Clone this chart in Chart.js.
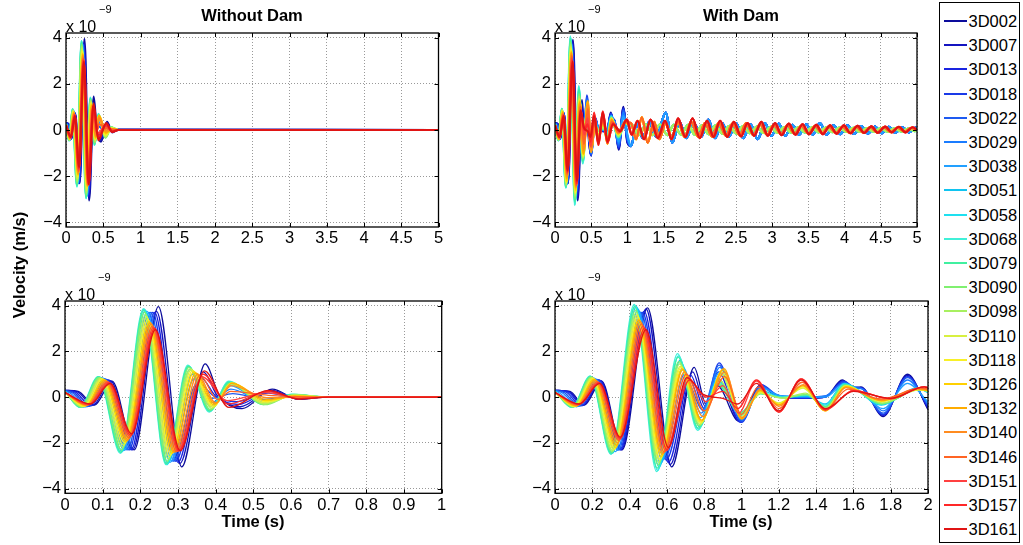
<!DOCTYPE html>
<html><head><meta charset="utf-8">
<script src="https://cdn.jsdelivr.net/npm/chart.js@4.4.1/dist/chart.umd.min.js"></script>
<style>
body{margin:0;width:1023px;height:545px;background:#fff;position:relative;overflow:hidden;font-family:'Liberation Sans',Arial,Helvetica,sans-serif;color:#000}
canvas{position:absolute}
.t{position:absolute;white-space:nowrap;line-height:1}
.b{font-weight:bold;font-size:16.5px}
.x10{font-size:16px}
.sup{font-size:11px}
#legend{position:absolute;left:939px;top:2px;width:79px;height:539px;border:1.2px solid #000;background:#fff;z-index:5}
.lg{position:absolute;left:4px;height:16.5px;line-height:16.5px;font-size:16.5px}
.sw{position:absolute;left:4px;width:23px;height:2px}
</style></head><body>
<canvas id="cTL" width="470" height="262" style="left:0;top:0"></canvas>
<canvas id="cTR" width="450" height="262" style="left:490px;top:0"></canvas>
<canvas id="cBL" width="470" height="275" style="left:0;top:270px"></canvas>
<canvas id="cBR" width="450" height="275" style="left:490px;top:270px"></canvas>

<div class="t b" style="left:252px;top:7px;transform:translateX(-50%)">Without Dam</div>
<div class="t b" style="left:741px;top:7px;transform:translateX(-50%)">With Dam</div>
<div class="t x10" style="left:66px;top:18.5px">x 10</div><div class="t sup" style="left:99px;top:3.5px">&minus;9</div>
<div class="t x10" style="left:555px;top:18.5px">x 10</div><div class="t sup" style="left:588px;top:3.5px">&minus;9</div>
<div class="t x10" style="left:65px;top:286.5px">x 10</div><div class="t sup" style="left:98px;top:271.5px">&minus;9</div>
<div class="t x10" style="left:555px;top:286.5px">x 10</div><div class="t sup" style="left:588px;top:271.5px">&minus;9</div>
<div class="t b" style="left:253px;top:512.5px;transform:translateX(-50%)">Time (s)</div>
<div class="t b" style="left:741px;top:512.5px;transform:translateX(-50%)">Time (s)</div>
<div class="t b" style="left:19px;top:265px;transform:translate(-50%,-50%) rotate(-90deg)">Velocity (m/s)</div>
<div id="legend"></div>

<script>
// ---------- series labels ----------
const seriesNames = ['3D002','3D007','3D013','3D018','3D022','3D029','3D038','3D051','3D058','3D068','3D079',
  '3D090','3D098','3D110','3D118','3D126','3D132','3D140','3D146','3D151','3D157','3D161'];

// ---------- tick labels ----------
const yTickVals = [-4,-2,0,2,4];
const yTickLabels = ['\u22124','\u22122','0','2','4'];
const xTickValsTop = [0,0.5,1,1.5,2,2.5,3,3.5,4,4.5,5];
const xTickLabelsTop = ['0','0.5','1','1.5','2','2.5','3','3.5','4','4.5','5'];
const xTickValsBL = [0,0.1,0.2,0.3,0.4,0.5,0.6,0.7,0.8,0.9,1];
const xTickLabelsBL = ['0','0.1','0.2','0.3','0.4','0.5','0.6','0.7','0.8','0.9','1'];
const xTickValsBR = [0,0.1,0.2,0.3,0.4,0.5,0.6,0.7,0.8,0.9,1];
const xTickLabelsBR = ['0','0.2','0.4','0.6','0.8','1','1.2','1.4','1.6','1.8','2'];

// ---------- Without Dam: [time s, velocity x1e-9 m/s] ----------
const noDam_3D002 = [[0,.3],[.035,.25],[.078,-.35],[.125,.7],[.184,-2.3],[.248,3.95],[.31,-3.05],[.372,1.45],[.41,.05],[.47,-.5],[.55,.35],[.62,-.1],[.7,.02],[5,0]];
const noDam_3D007 = [[0,.3],[.032,.24],[.074,-.36],[.121,.72],[.18,-2.3],[.243,3.75],[.305,-2.9],[.367,1.1],[.405,.05],[.465,-.42],[.548,.3],[.62,-.08],[.7,.01],[5,0]];
const noDam_3D013 = [[0,.3],[.028,.22],[.069,-.38],[.116,.75],[.176,-2.3],[.238,3.7],[.3,-2.85],[.36,.85],[.4,.05],[.46,-.32],[.545,.25],[.62,-.06],[.7,0],[5,0]];
const noDam_3D018 = [[0,.3],[.024,.2],[.064,-.4],[.111,.78],[.171,-2.3],[.233,3.7],[.294,-2.8],[.354,.62],[.395,.05],[.455,-.2],[.54,.18],[.62,-.04],[.7,0],[5,0]];
const noDam_3D022 = [[0,.3],[.02,.18],[.06,-.41],[.107,.8],[.167,-2.3],[.228,3.7],[.289,-2.8],[.348,.55],[.39,-.05],[.445,.15],[.53,-.1],[.6,.05],[.7,0],[5,0]];
const noDam_3D029 = [[0,.28],[.016,.15],[.055,-.42],[.103,.82],[.162,-2.3],[.223,3.7],[.284,-2.8],[.342,.8],[.388,-.25],[.44,.35],[.528,-.18],[.6,.07],[.7,0],[5,0]];
const noDam_3D038 = [[0,.27],[.012,.1],[.05,-.43],[.098,.85],[.157,-2.32],[.218,3.75],[.279,-2.85],[.337,1.0],[.386,-.4],[.438,.5],[.527,-.22],[.6,.09],[.7,0],[5,0]];
const noDam_3D051 = [[0,.26],[.045,-.44],[.093,.87],[.152,-2.38],[.213,3.8],[.273,-2.9],[.331,1.2],[.385,-.55],[.436,.6],[.526,-.27],[.6,.1],[.7,0],[5,0]];
const noDam_3D058 = [[0,.25],[.042,-.45],[.09,.9],[.149,-2.42],[.21,3.85],[.27,-2.95],[.328,1.35],[.384,-.62],[.435,.68],[.525,-.3],[.6,.12],[.7,0],[5,0]];
const noDam_3D068 = [[0,.25],[.04,-.45],[.088,.9],[.147,-2.45],[.208,3.85],[.268,-2.95],[.326,1.4],[.383,-.65],[.435,.7],[.525,-.3],[.6,.12],[.7,0],[5,0]];
const noDam_3D079 = [[0,.24],[.041,-.44],[.089,.88],[.148,-2.4],[.209,3.8],[.269,-2.9],[.327,1.35],[.384,-.6],[.436,.65],[.527,-.32],[.605,.12],[.7,0],[5,0]];
const noDam_3D090 = [[0,.23],[.043,-.43],[.091,.86],[.15,-2.3],[.211,3.7],[.271,-2.8],[.329,1.3],[.386,-.55],[.438,.6],[.53,-.33],[.61,.12],[.7,0],[5,0]];
const noDam_3D098 = [[0,.22],[.046,-.42],[.094,.84],[.153,-2.2],[.214,3.6],[.274,-2.7],[.332,1.25],[.39,-.5],[.44,.58],[.53,-.3],[.61,.1],[.7,0],[5,0]];
const noDam_3D110 = [[0,.22],[.049,-.41],[.097,.82],[.156,-2.1],[.217,3.5],[.277,-2.6],[.335,1.2],[.392,-.45],[.441,.6],[.53,-.25],[.61,.08],[.7,0],[5,0]];
const noDam_3D118 = [[0,.21],[.052,-.4],[.1,.8],[.159,-2.0],[.22,3.4],[.28,-2.5],[.338,1.15],[.394,-.4],[.442,.62],[.53,-.2],[.61,.06],[.7,0],[5,0]];
const noDam_3D126 = [[0,.21],[.055,-.38],[.103,.77],[.162,-1.95],[.223,3.3],[.284,-2.45],[.342,1.1],[.396,-.35],[.443,.62],[.532,-.15],[.61,.05],[.7,0],[5,0]];
const noDam_3D132 = [[0,.2],[.057,-.36],[.106,.74],[.165,-1.9],[.226,3.25],[.288,-2.4],[.347,1.05],[.398,-.3],[.443,.6],[.535,-.1],[.61,.04],[.7,0],[5,0]];
const noDam_3D140 = [[0,.2],[.059,-.35],[.109,.71],[.167,-1.85],[.229,3.2],[.292,-2.4],[.352,1.0],[.4,-.25],[.442,.5],[.535,-.02],[.7,0],[5,0]];
const noDam_3D146 = [[0,.2],[.061,-.34],[.112,.68],[.17,-1.78],[.232,3.1],[.296,-2.38],[.358,.95],[.405,-.1],[.44,.25],[.54,.08],[.7,0],[5,0]];
const noDam_3D151 = [[0,.2],[.063,-.33],[.115,.65],[.173,-1.72],[.235,3.05],[.3,-2.36],[.363,.9],[.43,-.15],[.535,.2],[.62,-.05],[.7,0],[5,0]];
const noDam_3D157 = [[0,.2],[.066,-.31],[.118,.62],[.175,-1.66],[.238,3.0],[.303,-2.35],[.367,1.0],[.433,-.3],[.538,.25],[.62,-.07],[.7,0],[5,0]];
const noDam_3D161 = [[0,.2],[.068,-.3],[.12,.6],[.177,-1.6],[.24,2.95],[.306,-2.35],[.37,1.15],[.435,-.45],[.54,.3],[.62,-.08],[.7,0],[5,0]];

// ---------- With Dam, first second: [time s, velocity x1e-9 m/s] ----------
const withDam_3D002 = [[0,.3],[.04,.25],[.078,-.35],[.125,.7],[.18,-2.3],[.248,3.9],[.313,-3.05],[.373,1.3],[.405,-.3],[.435,.5],[.493,-1.05],[.55,.5],[.6,0],[.675,-.05],[.725,0],[.77,.75],[.8,.4],[.82,.45],[.88,-.85],[.945,1.0],[1,-.55]];
const withDam_3D007 = [[0,.3],[.038,.24],[.075,-.36],[.123,.72],[.178,-2.3],[.244,3.85],[.309,-2.95],[.369,1.1],[.403,-.4],[.438,.8],[.495,-1.05],[.55,.5],[.6,.02],[.675,-.05],[.725,0],[.77,.7],[.8,.4],[.82,.42],[.88,-.8],[.945,.95],[1,-.5]];
const withDam_3D013 = [[0,.3],[.035,.23],[.073,-.37],[.12,.74],[.176,-2.3],[.239,3.75],[.304,-2.85],[.364,.95],[.4,-.5],[.438,1.1],[.497,-1.1],[.552,.52],[.6,.03],[.675,-.05],[.725,0],[.772,.7],[.8,.42],[.82,.42],[.88,-.78],[.945,.9],[1,-.45]];
const withDam_3D018 = [[0,.3],[.03,.22],[.07,-.38],[.117,.76],[.174,-2.3],[.235,3.7],[.298,-2.75],[.36,.8],[.398,-.6],[.44,1.5],[.5,-1.1],[.553,.55],[.6,.05],[.675,-.03],[.725,.02],[.775,.7],[.8,.45],[.82,.4],[.88,-.75],[.945,.9],[1,-.4]];
const withDam_3D022 = [[0,.3],[.025,.2],[.066,-.39],[.113,.78],[.171,-2.3],[.231,3.7],[.293,-2.7],[.354,.7],[.395,-.55],[.44,1.4],[.5,-1.05],[.553,.5],[.6,.05],[.675,0],[.725,.05],[.775,.65],[.8,.45],[.822,.38],[.88,-.7],[.945,.85],[1,-.35]];
const withDam_3D029 = [[0,.29],[.02,.18],[.062,-.4],[.109,.8],[.168,-2.32],[.226,3.75],[.287,-2.75],[.347,1.0],[.392,-.7],[.442,1.3],[.5,-1.0],[.553,.45],[.6,.08],[.675,0],[.725,.05],[.775,.6],[.805,.4],[.825,.35],[.88,-.6],[.945,.75],[1,-.3]];
const withDam_3D038 = [[0,.28],[.015,.15],[.058,-.42],[.104,.84],[.162,-2.38],[.222,3.85],[.283,-2.9],[.343,1.3],[.39,-.9],[.442,1.1],[.5,-.9],[.553,.4],[.6,.08],[.675,.02],[.725,0],[.775,.55],[.81,.35],[.88,-.5],[.945,.6],[1,-.2]];
const withDam_3D051 = [[0,.26],[.048,-.44],[.097,.9],[.154,-2.45],[.218,3.95],[.279,-3.05],[.335,1.6],[.388,-1.3],[.437,.8],[.497,-.8],[.551,.3],[.61,0],[.675,.05],[.725,-.3],[.775,.6],[.875,-.35],[.97,.4],[1,.2]];
const withDam_3D058 = [[0,.25],[.046,-.45],[.095,.92],[.151,-2.48],[.215,4.0],[.275,-3.2],[.331,1.8],[.384,-1.4],[.436,.7],[.496,-.75],[.55,.2],[.61,0],[.675,.08],[.725,-.35],[.775,.58],[.875,-.32],[.972,.37],[1,.22]];
const withDam_3D068 = [[0,.25],[.045,-.45],[.094,.92],[.15,-2.5],[.2125,4.05],[.2725,-3.25],[.3285,1.9],[.3825,-1.45],[.435,.6],[.495,-.7],[.55,.15],[.61,0],[.675,.1],[.725,-.4],[.775,.55],[.875,-.3],[.975,.35],[1,.25]];
const withDam_3D079 = [[0,.24],[.046,-.44],[.095,.9],[.151,-2.45],[.214,3.95],[.274,-3.1],[.33,1.75],[.384,-1.35],[.436,.55],[.496,-.7],[.55,.15],[.61,-.02],[.675,.1],[.726,-.42],[.776,.55],[.876,-.3],[.976,.35],[1,.25]];
const withDam_3D090 = [[0,.23],[.048,-.43],[.097,.88],[.153,-2.4],[.216,3.8],[.276,-2.95],[.332,1.55],[.386,-1.25],[.438,.6],[.497,-.72],[.552,.15],[.61,-.03],[.675,.12],[.726,-.45],[.777,.52],[.877,-.28],[.977,.35],[1,.26]];
const withDam_3D098 = [[0,.22],[.05,-.42],[.099,.86],[.155,-2.35],[.218,3.7],[.278,-2.85],[.334,1.45],[.388,-1.2],[.44,.75],[.498,-.78],[.552,.18],[.61,-.05],[.672,.18],[.726,-.5],[.778,.5],[.877,-.25],[.977,.33],[1,.27]];
const withDam_3D110 = [[0,.22],[.052,-.41],[.101,.84],[.158,-2.3],[.22,3.6],[.28,-2.75],[.336,1.35],[.39,-1.15],[.445,1.0],[.5,-.85],[.55,.2],[.6,-.25],[.665,.4],[.725,-.55],[.78,.5],[.875,-.2],[.975,.32],[1,.28]];
const withDam_3D118 = [[0,.21],[.054,-.4],[.103,.82],[.16,-2.25],[.222,3.5],[.282,-2.7],[.338,1.3],[.391,-1.1],[.448,1.1],[.5,-.9],[.55,.25],[.6,-.3],[.665,.45],[.725,-.58],[.78,.48],[.875,-.18],[.975,.33],[1,.28]];
const withDam_3D126 = [[0,.21],[.056,-.39],[.105,.79],[.163,-2.2],[.224,3.4],[.285,-2.6],[.341,1.25],[.392,-1.05],[.45,1.2],[.5,-.95],[.55,.28],[.6,-.33],[.665,.5],[.725,-.6],[.78,.46],[.875,-.16],[.975,.34],[1,.29]];
const withDam_3D132 = [[0,.2],[.058,-.38],[.107,.76],[.165,-2.1],[.226,3.35],[.287,-2.5],[.343,1.2],[.393,-1.0],[.453,1.25],[.5,-.95],[.55,.3],[.6,-.35],[.665,.5],[.725,-.6],[.78,.45],[.875,-.15],[.975,.35],[1,.3]];
const withDam_3D140 = [[0,.2],[.06,-.36],[.11,.72],[.168,-2.0],[.229,3.3],[.29,-2.45],[.347,1.1],[.396,-.85],[.455,1.1],[.502,-.9],[.55,.35],[.6,-.4],[.665,.55],[.725,-.58],[.78,.42],[.875,-.12],[.975,.37],[1,.32]];
const withDam_3D146 = [[0,.2],[.062,-.34],[.113,.68],[.171,-1.9],[.232,3.2],[.293,-2.4],[.352,1.0],[.4,-.6],[.455,.9],[.5,-.75],[.545,.45],[.6,-.5],[.663,.65],[.725,-.55],[.785,.35],[.875,-.08],[.98,.4],[1,.35]];
const withDam_3D151 = [[0,.2],[.063,-.32],[.116,.64],[.173,-1.85],[.236,3.1],[.297,-2.35],[.357,.85],[.405,-.2],[.45,.5],[.492,-.7],[.54,.7],[.6,-.65],[.66,.8],[.725,-.55],[.8,.3],[.9,-.08],[.99,.45],[1,.42]];
const withDam_3D157 = [[0,.2],[.066,-.31],[.118,.62],[.175,-1.8],[.24,3.0],[.3,-2.3],[.36,.75],[.405,0],[.45,.25],[.49,-.5],[.54,.75],[.6,-.65],[.66,.8],[.725,-.55],[.8,.28],[.9,-.06],[.99,.45],[1,.42]];
const withDam_3D161 = [[0,.2],[.065,-.3],[.12,.6],[.175,-1.75],[.244,2.95],[.304,-2.2],[.353,.85],[.4,.1],[.45,-.05],[.49,-.3],[.54,.6],[.6,-.6],[.66,.75],[.725,-.5],[.8,.25],[.9,-.05],[.99,.45],[1,.4]];

// ---------- With Dam, 1 s to 5 s (per colour group) ----------
const withDamTail_blue = [[1.05,-.7],[1.13,.3],[1.21,-.35],[1.3,.35],[1.4,-.3],[1.53,.75],[1.62,-.55],[1.72,.35],[1.81,-.35],[1.92,.3],[2.02,-.3],[2.12,.45],[2.21,-.35],[2.31,.3],[2.4,-.3],[2.5,.3],[2.6,-.35],[2.7,.25],[2.8,-.4],[2.9,.3],[2.99,-.25],[3.09,.28],[3.18,-.25],[3.28,.22],[3.37,-.2],[3.47,.25],[3.56,-.2],[3.66,.3],[3.75,-.2],[3.85,.2],[3.94,-.18],[4.04,.2],[4.13,-.17],[4.23,.17],[4.32,-.15],[4.42,.15],[4.51,-.14],[4.61,.14],[4.7,-.12],[4.8,.12],[4.89,-.1],[4.98,.1],[5,.05]];
const withDamTail_cyan = [[1.07,.2],[1.16,-.2],[1.26,.25],[1.35,-.22],[1.45,.25],[1.55,-.22],[1.64,.22],[1.74,-.2],[1.84,.22],[1.93,-.2],[2.03,.2],[2.12,-.18],[2.22,.2],[2.31,-.16],[2.41,.18],[2.5,-.15],[2.6,.17],[2.69,-.14],[2.79,.15],[2.88,-.13],[2.98,.14],[3.07,-.12],[3.17,.13],[3.26,-.11],[3.36,.12],[3.45,-.1],[3.55,.11],[3.64,-.1],[3.74,.1],[3.83,-.09],[3.93,.1],[4.02,-.08],[4.12,.09],[4.21,-.08],[4.31,.08],[4.4,-.07],[4.5,.08],[4.59,-.07],[4.69,.07],[4.78,-.06],[4.88,.06],[4.97,-.05],[5,0]];
const withDamTail_orange = [[1.05,.3],[1.12,-.4],[1.2,.55],[1.28,-.55],[1.37,.35],[1.44,-.4],[1.53,.3],[1.61,-.3],[1.7,.35],[1.79,-.3],[1.88,.35],[1.98,-.3],[2.07,.3],[2.17,-.28],[2.26,.3],[2.36,-.25],[2.45,.28],[2.55,-.22],[2.64,.3],[2.74,-.22],[2.83,.25],[2.93,-.2],[3.02,.22],[3.12,-.18],[3.21,.2],[3.31,-.17],[3.4,.18],[3.5,-.15],[3.59,.17],[3.69,-.14],[3.78,.15],[3.88,-.13],[3.97,.14],[4.07,-.12],[4.16,.13],[4.26,-.11],[4.35,.12],[4.45,-.1],[4.54,.11],[4.64,-.09],[4.73,.1],[4.83,-.08],[4.92,.09],[5,0]];
const withDamTail_red = [[1.06,-.2],[1.14,.4],[1.23,-.4],[1.32,.45],[1.42,-.35],[1.52,.4],[1.61,-.4],[1.7,.5],[1.8,-.3],[1.9,.5],[2.0,-.35],[2.1,.4],[2.19,-.3],[2.28,.4],[2.38,-.3],[2.47,.35],[2.57,-.28],[2.66,.3],[2.75,-.25],[2.85,.35],[2.94,-.25],[3.04,.3],[3.13,-.22],[3.23,.28],[3.32,-.2],[3.42,.25],[3.51,-.18],[3.61,.22],[3.7,-.18],[3.8,.2],[3.89,-.16],[3.99,.2],[4.08,-.14],[4.18,.18],[4.27,-.13],[4.37,.16],[4.46,-.12],[4.56,.15],[4.65,-.1],[4.75,.14],[4.84,-.1],[4.94,.12],[5,0]];

const noDamSeries = [noDam_3D002,noDam_3D007,noDam_3D013,noDam_3D018,noDam_3D022,noDam_3D029,noDam_3D038,noDam_3D051,noDam_3D058,noDam_3D068,noDam_3D079,noDam_3D090,noDam_3D098,noDam_3D110,noDam_3D118,noDam_3D126,noDam_3D132,noDam_3D140,noDam_3D146,noDam_3D151,noDam_3D157,noDam_3D161];
const withDamSeries = [withDam_3D002,withDam_3D007,withDam_3D013,withDam_3D018,withDam_3D022,withDam_3D029,withDam_3D038,withDam_3D051,withDam_3D058,withDam_3D068,withDam_3D079,withDam_3D090,withDam_3D098,withDam_3D110,withDam_3D118,withDam_3D126,withDam_3D132,withDam_3D140,withDam_3D146,withDam_3D151,withDam_3D157,withDam_3D161];
const withDamTails = [withDamTail_blue,withDamTail_blue,withDamTail_blue,withDamTail_blue,withDamTail_blue,withDamTail_blue,withDamTail_blue,
  withDamTail_cyan,withDamTail_cyan,withDamTail_cyan,withDamTail_cyan,withDamTail_cyan,withDamTail_cyan,
  withDamTail_orange,withDamTail_orange,withDamTail_orange,withDamTail_orange,withDamTail_orange,withDamTail_orange,
  withDamTail_red,withDamTail_red,withDamTail_red];

// ---------- styles ----------
const seriesColors = ['#0c0c9c','#1414c0','#1a24e0','#1a3ae8','#1e5af0','#1a7cff','#22a0ff','#10c4f0','#1ee0f0','#40f0d8','#40f0a0',
  '#80f070','#a8f060','#d8f040','#f8f028','#ffd000','#ffac00','#ff8c20','#ff6424','#ff4040','#ff2828','#e01414'];
const FONT = "'Liberation Sans', Arial, Helvetica, sans-serif";

// legend
const lg = document.getElementById('legend');
seriesNames.forEach((n,i)=>{
  const cy = Math.round(18 + i*24.2);
  const s = document.createElement('div'); s.className='sw'; s.style.top=(cy-1)+'px'; s.style.background=seriesColors[i]; lg.appendChild(s);
  const t = document.createElement('div'); t.className='lg'; t.style.left='28.5px'; t.style.top=(cy-8)+'px'; t.textContent=n; lg.appendChild(t);
});

const boxPlugin = {
  id:'box',
  afterDatasetsDraw(chart){
    const {ctx, chartArea:a, scales} = chart;
    ctx.save();
    ctx.strokeStyle='#000'; ctx.lineWidth=1.3;
    ctx.strokeRect(a.left, a.top, a.right-a.left, a.bottom-a.top);
    ctx.lineWidth=1;
    const L=4;
    scales.x.ticks.forEach(t=>{
      const px=Math.round(scales.x.getPixelForValue(t.value))+0.5;
      ctx.beginPath(); ctx.moveTo(px,a.bottom); ctx.lineTo(px,a.bottom-L); ctx.moveTo(px,a.top); ctx.lineTo(px,a.top+L); ctx.stroke();
    });
    scales.y.ticks.forEach(t=>{
      const py=Math.round(scales.y.getPixelForValue(t.value))+0.5;
      ctx.beginPath(); ctx.moveTo(a.left,py); ctx.lineTo(a.left+L,py); ctx.moveTo(a.right,py); ctx.lineTo(a.right-L,py); ctx.stroke();
    });
    ctx.restore();
  }
};

function makeChart(id, dataList, o){
  const datasets = dataList.map((d,i)=>({
    label: seriesNames[i], data: d, borderColor: seriesColors[i], backgroundColor: seriesColors[i],
    borderWidth: o.lw, pointRadius: 0, fill: false, cubicInterpolationMode: 'monotone', order: 21 - i
  }));
  return new Chart(document.getElementById(id), {
    type:'line',
    data:{datasets},
    options:{
      responsive:false, animation:false, devicePixelRatio:1, events:[],
      layout:{padding:{left:0, top:o.top, right:o.right, bottom:0}},
      plugins:{legend:{display:false}, tooltip:{enabled:false}},
      scales:{
        x:{type:'linear', min:o.xmin, max:o.xmax,
          afterBuildTicks:a=>{a.ticks=o.xVals.map(v=>({value:v}));},
          afterFit:a=>{a.height=o.xH;},
          ticks:{callback:(v,i)=>o.xLabels[i], font:{family:FONT,size:16.5}, color:'#000', padding:2, maxRotation:0, autoSkip:false},
          grid:{color:'#999', drawTicks:false, lineWidth:1},
          border:{display:false, dash:[1,2]}},
        y:{type:'linear', min:-4.2, max:4.2,
          afterBuildTicks:a=>{a.ticks=yTickVals.map(v=>({value:v}));},
          afterFit:a=>{a.width=o.yW;},
          ticks:{callback:(v,i)=>yTickLabels[i], font:{family:FONT,size:16.5}, color:'#000', padding:4, autoSkip:false},
          grid:{color:'#999', drawTicks:false, lineWidth:1},
          border:{display:false, dash:[1,2]}}
      }
    },
    plugins:[boxPlugin]
  });
}

makeChart('cTL', noDamSeries, {lw:2.2, top:33, right:31.5, xH:35, yW:66, xmin:0, xmax:5, xVals:xTickValsTop, xLabels:xTickLabelsTop});
makeChart('cTR', withDamSeries.map((h,i)=>h.concat(withDamTails[i])), {lw:2.2, top:33, right:23, xH:35, yW:65, xmin:0, xmax:5, xVals:xTickValsTop, xLabels:xTickLabelsTop});
makeChart('cBL', noDamSeries, {lw:1.3, top:31, right:28.3, xH:51.7, yW:65, xmin:0, xmax:1, xVals:xTickValsBL, xLabels:xTickLabelsBL});
makeChart('cBR', withDamSeries, {lw:1.3, top:31, right:12, xH:51.7, yW:65, xmin:0, xmax:1, xVals:xTickValsBR, xLabels:xTickLabelsBR});
</script>
</body></html>
